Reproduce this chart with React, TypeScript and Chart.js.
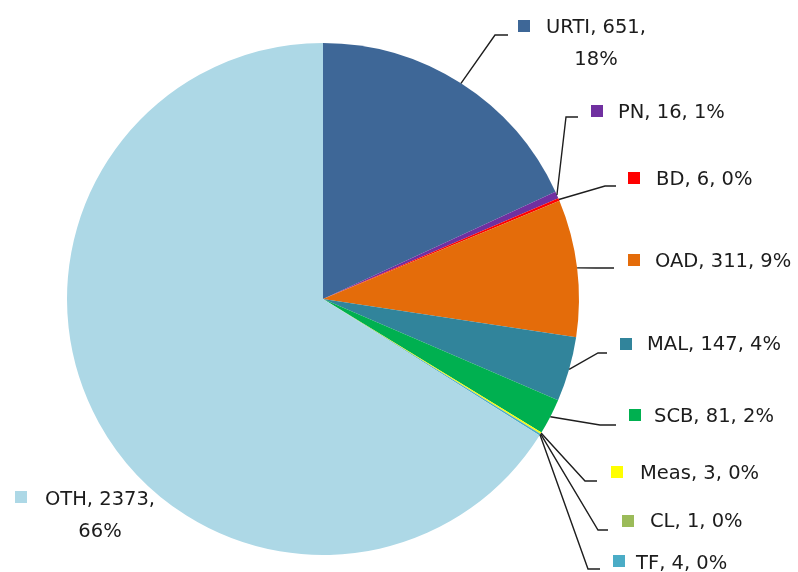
import React, { useEffect, useRef } from "react";
import { Chart, registerables } from "chart.js";

Chart.register(...registerables);

// ---- data ----
const CATEGORIES = ["URTI", "PN", "BD", "OAD", "MAL", "SCB", "Meas", "CL", "TF", "OTH"];
const VALUES = [651, 16, 6, 311, 147, 81, 3, 1, 4, 2373];
const PERCENT_LABELS = ["18%", "1%", "0%", "9%", "4%", "2%", "0%", "0%", "0%", "66%"];
const COLORS = [
  "#3E6797",
  "#7030A0",
  "#FF0000",
  "#E46C0A",
  "#31849B",
  "#00B050",
  "#FFFF00",
  "#9BBB59",
  "#4BACC6",
  "#ADD8E6",
];

// ---- label layout (canvas px): square, text, leader elbow / end ----
type Layout = {
  sqX: number;
  sqY: number;
  textX: number;
  textY: number;
  wrap?: boolean;
  elbow?: [number, number];
  end?: [number, number];
};
const LAYOUT: Layout[] = [
  { sqX: 518, sqY: 26, textX: 596, textY: 28, wrap: true, elbow: [495, 35], end: [508, 35] },
  { sqX: 591, sqY: 111, textX: 618, textY: 113, elbow: [566, 117], end: [578, 117] },
  { sqX: 628, sqY: 178, textX: 656, textY: 180, elbow: [605, 186], end: [616, 186] },
  { sqX: 628, sqY: 260, textX: 655, textY: 262, elbow: [596, 268], end: [614, 268] },
  { sqX: 620, sqY: 344, textX: 647, textY: 345, elbow: [598, 353], end: [607, 353] },
  { sqX: 629, sqY: 415, textX: 654, textY: 417, elbow: [600, 425], end: [616, 425] },
  { sqX: 611, sqY: 472, textX: 640, textY: 474, elbow: [585, 481], end: [597, 481] },
  { sqX: 622, sqY: 521, textX: 650, textY: 522, elbow: [598, 530], end: [608, 530] },
  { sqX: 613, sqY: 561, textX: 636, textY: 564, elbow: [588, 569], end: [600, 569] },
  { sqX: 15, sqY: 497, textX: 100, textY: 500, wrap: true },
];

const FONT = '19.5px "DejaVu Sans"';
const TEXT_COLOR = "#1c1c1c";
const LINE_COLOR = "#1e1e1e";
const SQ = 12;
const LINE_H = 32;

const labelPlugin = {
  id: "sliceLabels",
  afterDatasetsDraw(chart: any) {
    const ctx: CanvasRenderingContext2D = chart.ctx;
    const meta = chart.getDatasetMeta(0);
    const ds = chart.data.datasets[0];
    ctx.save();
    meta.data.forEach((arc: any, i: number) => {
      const p = arc.getProps(["x", "y", "startAngle", "endAngle", "outerRadius"], true);
      const mid = (p.startAngle + p.endAngle) / 2;
      const ax = p.x + Math.cos(mid) * p.outerRadius;
      const ay = p.y + Math.sin(mid) * p.outerRadius;
      const L = LAYOUT[i];
      if (L.elbow && L.end) {
        ctx.beginPath();
        ctx.strokeStyle = LINE_COLOR;
        ctx.lineWidth = 1.4;
        ctx.moveTo(ax, ay);
        ctx.lineTo(L.elbow[0], L.elbow[1]);
        ctx.lineTo(L.end[0], L.end[1]);
        ctx.stroke();
      }
      // color square
      ctx.fillStyle = ds.backgroundColor[i];
      ctx.fillRect(L.sqX, L.sqY - SQ / 2, SQ, SQ);
      // text
      ctx.font = FONT;
      ctx.fillStyle = TEXT_COLOR;
      ctx.textBaseline = "middle";
      const name = chart.data.labels[i];
      const v = ds.data[i];
      const pct = PERCENT_LABELS[i];
      if (L.wrap) {
        ctx.textAlign = "center";
        ctx.fillText(`${name}, ${v},`, L.textX, L.textY);
        ctx.fillText(pct, L.textX, L.textY + LINE_H);
      } else {
        ctx.textAlign = "left";
        ctx.fillText(`${name}, ${v}, ${pct}`, L.textX, L.textY);
      }
    });
    ctx.restore();
  },
};

export default function App() {
  const ref = useRef<HTMLCanvasElement | null>(null);

  useEffect(() => {
    document.body.style.margin = "0";
    const canvas = ref.current;
    if (!canvas) return;
    const chart = new Chart(canvas, {
      type: "pie",
      data: {
        labels: CATEGORIES,
        datasets: [
          {
            data: VALUES,
            backgroundColor: COLORS,
            borderWidth: 0,
          },
        ],
      },
      options: {
        responsive: false,
        animation: false,
        layout: { padding: { left: 67, top: 43, right: 219, bottom: 17 } },
        plugins: {
          legend: { display: false },
          tooltip: { enabled: false },
        },
      },
      plugins: [labelPlugin],
    });
    return () => chart.destroy();
  }, []);

  return (
    <div style={{ width: 798, height: 572, background: "#ffffff" }}>
      <canvas ref={ref} width={798} height={572} />
    </div>
  );
}
